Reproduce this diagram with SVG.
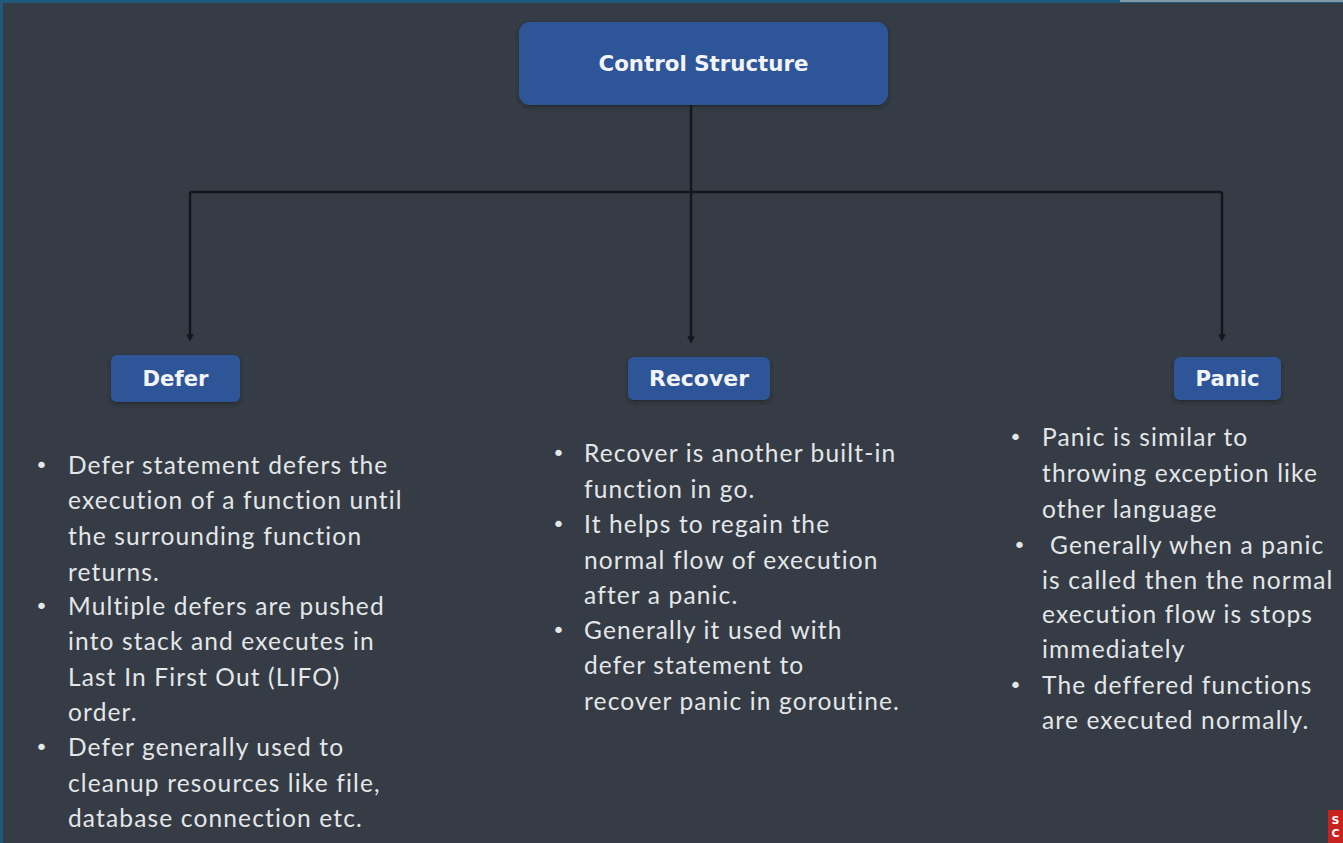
<svg xmlns="http://www.w3.org/2000/svg" width="1343" height="843" viewBox="0 0 1343 843">
  <style>
    .node rect { fill: #2e5597; }
    .lbl { font-family: "DejaVu Sans", "Liberation Sans", sans-serif; font-weight: bold; fill: #f2f4f8; text-anchor: middle; }
    .body { font-family: Lato, "Liberation Sans", sans-serif; font-size: 24.5px; letter-spacing: 1.15px; fill: #e4e6e8; }
    .dot { font-family: "DejaVu Sans", sans-serif; font-size: 22px; letter-spacing: 0; fill: #e4e6e8; }
    .wire { fill: none; stroke: #14171c; stroke-width: 2.5; }
  </style>
  <defs>
    <filter id="shadow" x="-10%" y="-20%" width="120%" height="150%">
      <feDropShadow dx="0" dy="2" stdDeviation="2" flood-color="#1a1d22" flood-opacity="0.6"/>
    </filter>
    <marker id="tip" viewBox="0 0 6 6" refX="3" refY="3" markerWidth="3" markerHeight="3" orient="auto">
      <path d="M0,0 L6,3 L0,6 z" fill="#14171c"/>
    </marker>
  </defs>

  <!-- backdrop and frame edges -->
  <rect width="1343" height="843" fill="#353c45"/>
  <rect width="1343" height="3" fill="#1f5a7e"/>
  <rect width="3" height="843" fill="#1f5a7e"/>
  <rect x="1120" y="0" width="223" height="2" fill="#7f9aa6"/>

  <!-- connectors -->
  <g id="connectors">
    <path class="wire" d="M691,105 V192"/>
    <path class="wire" d="M190,192 H1222"/>
    <path class="wire" d="M190,192 V338" marker-end="url(#tip)"/>
    <path class="wire" d="M691,192 V340" marker-end="url(#tip)"/>
    <path class="wire" d="M1222,192 V338" marker-end="url(#tip)"/>
  </g>

  <!-- root -->
  <g id="control-structure" class="node">
    <rect x="519" y="22" width="369" height="83" rx="11" filter="url(#shadow)"/>
    <text class="lbl" x="703.5" y="71" font-size="21" textLength="210" lengthAdjust="spacingAndGlyphs">Control Structure</text>
  </g>

  <!-- children -->
  <g id="defer" class="node">
    <rect x="111" y="355" width="129" height="47" rx="6" filter="url(#shadow)"/>
    <text class="lbl" x="175.5" y="386" font-size="21" textLength="66" lengthAdjust="spacingAndGlyphs">Defer</text>
  </g>
  <g id="recover" class="node">
    <rect x="628" y="357" width="142" height="43" rx="6" filter="url(#shadow)"/>
    <text class="lbl" x="699" y="386" font-size="21" textLength="100" lengthAdjust="spacingAndGlyphs">Recover</text>
  </g>
  <g id="panic" class="node">
    <rect x="1174" y="357" width="107" height="43" rx="6" filter="url(#shadow)"/>
    <text class="lbl" x="1227.5" y="386" font-size="21" textLength="64" lengthAdjust="spacingAndGlyphs">Panic</text>
  </g>

  <!-- Defer notes -->
  <g id="defer-notes" class="body">
    <text class="dot" x="35" y="473">•</text>
    <text x="68" y="474">Defer statement defers the</text>
    <text x="68" y="509">execution of a function until</text>
    <text x="68" y="545">the surrounding function</text>
    <text x="68" y="581">returns.</text>
    <text class="dot" x="35" y="614">•</text>
    <text x="68" y="615">Multiple defers are pushed</text>
    <text x="68" y="650">into stack and executes in</text>
    <text x="68" y="686">Last In First Out (LIFO)</text>
    <text x="68" y="721">order.</text>
    <text class="dot" x="35" y="755">•</text>
    <text x="68" y="756">Defer generally used to</text>
    <text x="68" y="792">cleanup resources like file,</text>
    <text x="68" y="827">database connection etc.</text>
  </g>

  <!-- Recover notes -->
  <g id="recover-notes" class="body">
    <text class="dot" x="552" y="461">•</text>
    <text x="584" y="462">Recover is another built-in</text>
    <text x="584" y="498">function in go.</text>
    <text class="dot" x="552" y="532">•</text>
    <text x="584" y="533">It helps to regain the</text>
    <text x="584" y="569">normal flow of execution</text>
    <text x="584" y="604">after a panic.</text>
    <text class="dot" x="552" y="638">•</text>
    <text x="584" y="639">Generally it used with</text>
    <text x="584" y="674">defer statement to</text>
    <text x="584" y="710">recover panic in goroutine.</text>
  </g>

  <!-- Panic notes -->
  <g id="panic-notes" class="body">
    <text class="dot" x="1009" y="445">•</text>
    <text x="1042" y="446">Panic is similar to</text>
    <text x="1042" y="482">throwing exception like</text>
    <text x="1042" y="518">other language</text>
    <text class="dot" x="1013" y="553">•</text>
    <text x="1050" y="554">Generally when a panic</text>
    <text x="1042" y="589">is called then the normal</text>
    <text x="1042" y="623">execution flow is stops</text>
    <text x="1042" y="658">immediately</text>
    <text class="dot" x="1009" y="693">•</text>
    <text x="1042" y="694">The deffered functions</text>
    <text x="1042" y="729">are executed normally.</text>
  </g>

  <!-- corner badge -->
  <g id="badge">
    <rect x="1328" y="810" width="15" height="33" fill="#c8221e"/>
    <text x="1335.5" y="824" font-family="DejaVu Sans, sans-serif" font-size="11" font-weight="bold" fill="#ffffff" text-anchor="middle">S</text>
    <text x="1335.5" y="837" font-family="DejaVu Sans, sans-serif" font-size="11" font-weight="bold" fill="#ffffff" text-anchor="middle">C</text>
  </g>
</svg>
